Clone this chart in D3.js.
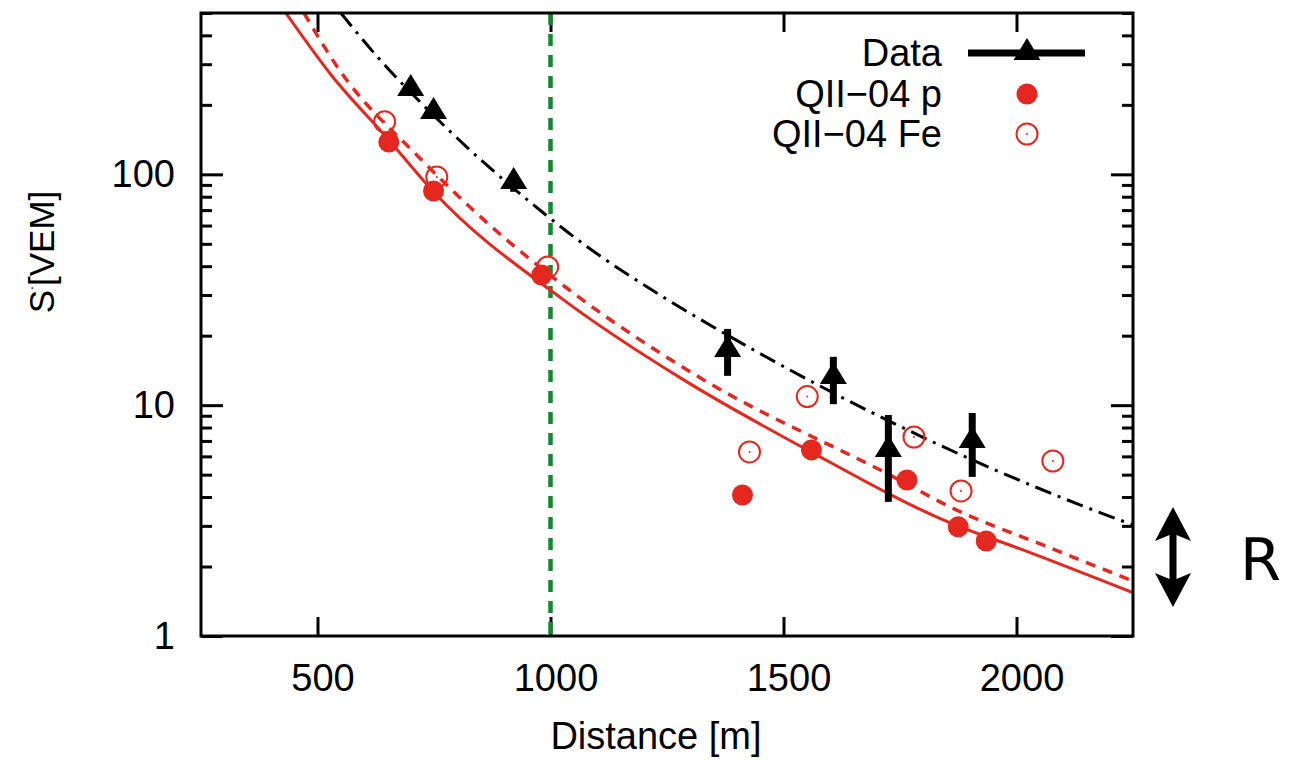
<!DOCTYPE html>
<html>
<head>
<meta charset="utf-8">
<script src="https://cdn.jsdelivr.net/npm/d3@7"></script>
<style>
  body { margin: 0; background: #fff; }
  svg { display: block; }
</style>
</head>
<body>
<div id="chart"></div>
<script>
// measured data (distance in m, signal in VEM)
const dataDist = [700, 749, 921, 1380, 1607, 1725, 1905];
const dataS    = [239, 190, 94.6, 17.7, 13.5, 6.53, 7.14];
const dataLo   = [239, 190, 84, 13.4, 10.1, 3.81, 4.89];
const dataHi   = [239, 190, 100, 21.4, 16.2, 9.07, 9.25];

// QII-04 proton
const pDist = [653, 749, 981, 1412, 1560, 1765, 1875, 1935];
const pS    = [138, 84.7, 36.6, 4.08, 6.40, 4.74, 2.97, 2.58];

// QII-04 iron
const feDist = [644, 756, 994, 1427, 1551, 1780, 1881, 2078];
const feS    = [169, 97.5, 39.7, 6.27, 10.9, 7.28, 4.25, 5.73];

// fitted curves
const dataFitDist = [550, 640, 722, 985, 1065, 1242, 1380, 1766, 2136, 2250];
const dataFitS    = [500, 304, 204, 68, 50.9, 29.4, 20.1, 7.81, 3.70, 3.03];
const pFitDist = [432, 529, 653, 749, 1028, 1285, 1551, 1858, 2014, 2250];
const pFitS    = [500, 270, 141, 84, 28.6, 12.9, 6.40, 3.09, 2.36, 1.54];
const feFitDist = [471, 544, 717, 850, 1032, 1236, 1328, 1736, 1858, 2072, 2244];
const feFitS    = [500, 289, 119, 65.4, 32.5, 16.8, 12.9, 4.89, 3.62, 2.41, 1.75];

const xTicks = [500, 1000, 1500, 2000];
const yTicks = [1, 10, 100];
const refDist = 1000;

const legendLabels = ["Data", "QII\u221204 p", "QII\u221204 Fe"];

const w = 1290, h = 760;
const pLeft = 201, pRight = 1133, pTop = 13, pBottom = 636;
const red = "#e4281f";
const font = "'Liberation Sans', Arial, Helvetica, sans-serif";
const fs = 38;

const x = d3.scaleLinear().domain([250, 2250]).range([pLeft, pRight]);
const y = d3.scaleLog().domain([1, 500]).range([pBottom, pTop]);

const svg = d3.select("#chart").append("svg")
  .attr("width", w).attr("height", h);

svg.append("rect").attr("width", w).attr("height", h).attr("fill", "#fff");

svg.append("clipPath").attr("id", "clip")
  .append("rect")
  .attr("x", pLeft).attr("y", pTop)
  .attr("width", pRight - pLeft).attr("height", pBottom - pTop);

const minor = y.ticks().filter(v => yTicks.indexOf(v) < 0);

function styleAxis(g) {
  g.select(".domain").remove();
  g.selectAll("line").attr("stroke", "#000").attr("stroke-width", 3);
  g.attr("font-size", fs).attr("font-family", font);
  g.selectAll("text").attr("fill", "#000");
}

// bottom axis
svg.append("g")
  .attr("transform", "translate(0," + pBottom + ")")
  .call(d3.axisBottom(x).tickValues(xTicks).tickSize(-19).tickPadding(28).tickFormat(d3.format("d")))
  .call(styleAxis)
  .selectAll("text").attr("dx", 5);

// top mirror
svg.append("g")
  .attr("transform", "translate(0," + pTop + ")")
  .call(d3.axisTop(x).tickValues(xTicks).tickSize(-19).tickFormat(""))
  .call(styleAxis);

// left axis
svg.append("g")
  .attr("transform", "translate(" + pLeft + ",0)")
  .call(d3.axisLeft(y).tickValues(yTicks).tickSize(-22).tickPadding(26).tickFormat(d3.format("d")))
  .call(styleAxis);

svg.append("g")
  .attr("transform", "translate(" + pLeft + ",0)")
  .call(d3.axisLeft(y).tickValues(minor).tickSize(-11).tickFormat(""))
  .call(styleAxis);

// right mirror
svg.append("g")
  .attr("transform", "translate(" + pRight + ",0)")
  .call(d3.axisRight(y).tickValues(yTicks).tickSize(-22).tickFormat(""))
  .call(styleAxis);

svg.append("g")
  .attr("transform", "translate(" + pRight + ",0)")
  .call(d3.axisRight(y).tickValues(minor).tickSize(-11).tickFormat(""))
  .call(styleAxis);

const plot = svg.append("g").attr("clip-path", "url(#clip)");

const line = d3.line()
  .x(d => x(d[0]))
  .y(d => y(d[1]))
  .curve(d3.curveMonotoneX);

// reference line at 1000 m
plot.append("line")
  .attr("x1", x(refDist)).attr("x2", x(refDist))
  .attr("y1", pTop).attr("y2", pBottom)
  .attr("stroke", "#108a2c").attr("stroke-width", 4.5)
  .attr("stroke-dasharray", "12,9");

plot.append("path")
  .datum(d3.zip(feFitDist, feFitS))
  .attr("d", line)
  .attr("fill", "none").attr("stroke", red)
  .attr("stroke-width", 3.5).attr("stroke-dasharray", "10,8");

plot.append("path")
  .datum(d3.zip(pFitDist, pFitS))
  .attr("d", line)
  .attr("fill", "none").attr("stroke", red)
  .attr("stroke-width", 3);

plot.append("path")
  .datum(d3.zip(dataFitDist, dataFitS))
  .attr("d", line)
  .attr("fill", "none").attr("stroke", "#000")
  .attr("stroke-width", 3).attr("stroke-dasharray", "17,7,3,7");

// QII-04 Fe open circles
const feG = plot.selectAll(".fe")
  .data(d3.zip(feDist, feS))
  .enter().append("g")
  .attr("class", "fe")
  .attr("transform", d => "translate(" + x(d[0]) + "," + y(d[1]) + ")");
feG.append("circle").attr("r", 10.5).attr("fill", "none")
  .attr("stroke", red).attr("stroke-width", 2);
feG.append("circle").attr("r", 1).attr("fill", red);

// QII-04 p filled circles
plot.selectAll(".p")
  .data(d3.zip(pDist, pS))
  .enter().append("circle")
  .attr("class", "p")
  .attr("cx", d => x(d[0]))
  .attr("cy", d => y(d[1]))
  .attr("r", 10.5)
  .attr("fill", red);

// data error bars + triangles
const tri = "M0,-13L13.5,9L-13.5,9Z";
const dataRows = dataDist.map((d, i) => [d, dataS[i], dataLo[i], dataHi[i]]);

plot.selectAll(".err")
  .data(dataRows)
  .enter().append("line")
  .attr("class", "err")
  .attr("x1", d => x(d[0])).attr("x2", d => x(d[0]))
  .attr("y1", d => y(d[2])).attr("y2", d => y(d[3]))
  .attr("stroke", "#000").attr("stroke-width", 7);

plot.selectAll(".tri")
  .data(dataRows)
  .enter().append("path")
  .attr("class", "tri")
  .attr("d", tri)
  .attr("transform", d => "translate(" + x(d[0]) + "," + y(d[1]) + ")")
  .attr("fill", "#000");

// frame
svg.append("rect")
  .attr("x", pLeft).attr("y", pTop)
  .attr("width", pRight - pLeft).attr("height", pBottom - pTop)
  .attr("fill", "none").attr("stroke", "#000").attr("stroke-width", 3);

// legend
const leg = svg.append("g").attr("font-family", font).attr("font-size", fs);
const legY = [53, 94, 134];
leg.selectAll("text")
  .data(legendLabels)
  .enter().append("text")
  .attr("x", 942)
  .attr("y", (d, i) => legY[i])
  .attr("dy", "0.35em")
  .attr("text-anchor", "end")
  .text(d => d);

leg.append("line")
  .attr("x1", 968).attr("x2", 1085)
  .attr("y1", legY[0]).attr("y2", legY[0])
  .attr("stroke", "#000").attr("stroke-width", 7);
leg.append("path").attr("d", tri)
  .attr("transform", "translate(1027," + (legY[0] - 2) + ")");
leg.append("circle").attr("cx", 1027).attr("cy", legY[1]).attr("r", 10.5).attr("fill", red);
leg.append("circle").attr("cx", 1027).attr("cy", legY[2]).attr("r", 10.5)
  .attr("fill", "none").attr("stroke", red).attr("stroke-width", 2);
leg.append("circle").attr("cx", 1027).attr("cy", legY[2]).attr("r", 1).attr("fill", red);

// axis titles
svg.append("text")
  .attr("x", 656).attr("y", 749)
  .attr("text-anchor", "middle")
  .attr("font-family", font).attr("font-size", fs)
  .text("Distance [m]");

const yl = svg.append("text")
  .attr("transform", "translate(54,252) rotate(-90)")
  .attr("text-anchor", "middle")
  .attr("font-family", font).attr("font-size", 35);
yl.append("tspan").text("S");
yl.append("tspan").attr("font-size", 14).attr("dy", -21).text(".");
yl.append("tspan").attr("dy", 21).text("[VEM]");

// R double arrow
svg.append("path")
  .attr("d", "M1173,507L1191,541L1176.5,535L1176.5,579L1191,573L1173,607L1155,573L1169.5,579L1169.5,535L1155,541Z")
  .attr("fill", "#000");

svg.append("text")
  .attr("x", 1240).attr("y", 580)
  .attr("font-family", "'DejaVu Sans', sans-serif")
  .attr("font-size", 59)
  .text("R");
</script>
</body>
</html>
